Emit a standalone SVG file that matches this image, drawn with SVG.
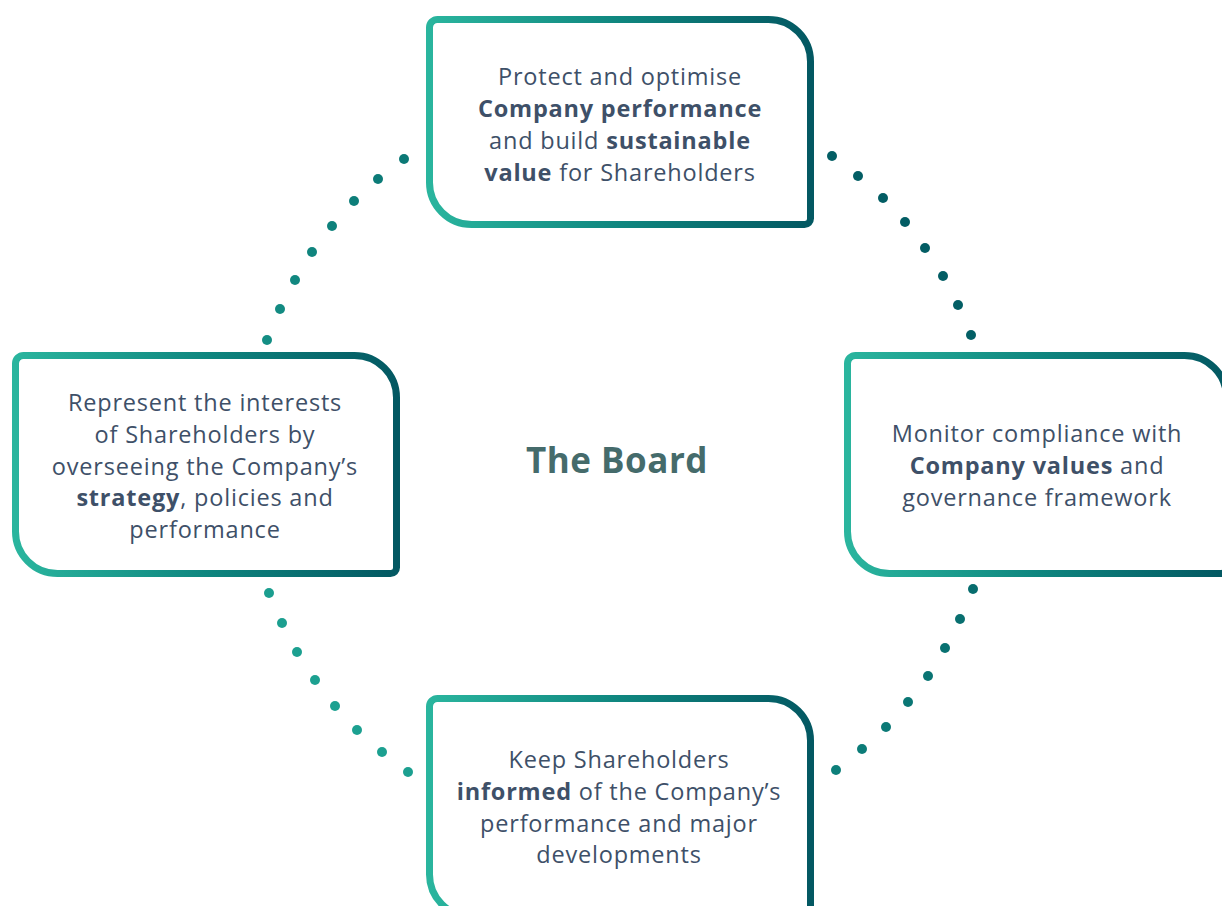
<svg xmlns="http://www.w3.org/2000/svg" width="1222" height="906" viewBox="0 0 1222 906">
  <defs>
    <linearGradient id="boxGrad" x1="0" y1="0" x2="1" y2="0">
      <stop offset="0" stop-color="#2ab59e"/>
      <stop offset="0.5" stop-color="#0f867f"/>
      <stop offset="1" stop-color="#035862"/>
    </linearGradient>
    <linearGradient id="dotGrad" gradientUnits="userSpaceOnUse" x1="250" y1="800" x2="990" y2="150">
      <stop offset="0" stop-color="#22ad99"/>
      <stop offset="0.5" stop-color="#0c7c78"/>
      <stop offset="1" stop-color="#00545e"/>
    </linearGradient>
  </defs>
  <style>
    .box { fill: #ffffff; stroke: url(#boxGrad); stroke-width: 7; }
    .txt { font-family: "Open Sans", Lato, sans-serif; font-size: 23.5px; letter-spacing: 0.8px; fill: #3e5068; text-anchor: middle; }
    .b { font-weight: bold; }
    .title { font-family: "Open Sans", Lato, sans-serif; font-size: 35px; letter-spacing: 0.5px; font-weight: bold; fill: #456b6b; text-anchor: middle; }
    .dot { fill: url(#dotGrad); }
  </style>
  <rect width="1222" height="906" fill="#ffffff"/>

  <g id="connectors">
    <circle class="dot" cx="404" cy="159" r="5"/>
    <circle class="dot" cx="378" cy="179" r="5"/>
    <circle class="dot" cx="354" cy="201" r="5"/>
    <circle class="dot" cx="332" cy="226" r="5"/>
    <circle class="dot" cx="312" cy="252" r="5"/>
    <circle class="dot" cx="295" cy="280" r="5"/>
    <circle class="dot" cx="280" cy="309" r="5"/>
    <circle class="dot" cx="267" cy="340" r="5"/>

    <circle class="dot" cx="832" cy="156" r="5"/>
    <circle class="dot" cx="858" cy="176" r="5"/>
    <circle class="dot" cx="883" cy="198" r="5"/>
    <circle class="dot" cx="905" cy="222" r="5"/>
    <circle class="dot" cx="925" cy="248" r="5"/>
    <circle class="dot" cx="943" cy="276" r="5"/>
    <circle class="dot" cx="958" cy="305" r="5"/>
    <circle class="dot" cx="971" cy="335" r="5"/>

    <circle class="dot" cx="269" cy="593" r="5"/>
    <circle class="dot" cx="282" cy="623" r="5"/>
    <circle class="dot" cx="297" cy="652" r="5"/>
    <circle class="dot" cx="315" cy="680" r="5"/>
    <circle class="dot" cx="335" cy="706" r="5"/>
    <circle class="dot" cx="357" cy="730" r="5"/>
    <circle class="dot" cx="382" cy="752" r="5"/>
    <circle class="dot" cx="408" cy="772" r="5"/>

    <circle class="dot" cx="973" cy="589" r="5"/>
    <circle class="dot" cx="960" cy="619" r="5"/>
    <circle class="dot" cx="945" cy="648" r="5"/>
    <circle class="dot" cx="928" cy="676" r="5"/>
    <circle class="dot" cx="908" cy="702" r="5"/>
    <circle class="dot" cx="886" cy="727" r="5"/>
    <circle class="dot" cx="862" cy="749" r="5"/>
    <circle class="dot" cx="836" cy="770" r="5"/>
  </g>

  <g id="node-top">
    <path class="box" d="M437.5 19.5 H768.5 A42 42 0 0 1 810.5 61.5 V218.5 A6 6 0 0 1 804.5 224.5 H471.5 A42 42 0 0 1 429.5 182.5 V27.5 A8 8 0 0 1 437.5 19.5 Z"/>
    <text class="txt" x="620" y="85">Protect and optimise</text>
    <text class="txt b" x="620" y="117">Company performance</text>
    <text class="txt" x="620" y="149">and build <tspan class="b">sustainable</tspan></text>
    <text class="txt" x="620" y="181"><tspan class="b">value</tspan> for Shareholders</text>
  </g>

  <g id="node-left">
    <path class="box" d="M23.5 355.5 H354.5 A42 42 0 0 1 396.5 397.5 V567.5 A6 6 0 0 1 390.5 573.5 H57.5 A42 42 0 0 1 15.5 531.5 V363.5 A8 8 0 0 1 23.5 355.5 Z"/>
    <text class="txt" x="205" y="411">Represent the interests</text>
    <text class="txt" x="205" y="443">of Shareholders by</text>
    <text class="txt" x="205" y="475">overseeing the Company’s</text>
    <text class="txt" x="205" y="506"><tspan class="b">strategy</tspan>, policies and</text>
    <text class="txt" x="205" y="538">performance</text>
  </g>

  <g id="node-right">
    <path class="box" d="M855.5 355.5 H1184.5 A42 42 0 0 1 1226.5 397.5 V567.5 A6 6 0 0 1 1220.5 573.5 H889.5 A42 42 0 0 1 847.5 531.5 V363.5 A8 8 0 0 1 855.5 355.5 Z"/>
    <text class="txt" x="1037" y="442">Monitor compliance with</text>
    <text class="txt" x="1037" y="474"><tspan class="b">Company values</tspan> and</text>
    <text class="txt" x="1037" y="506">governance framework</text>
  </g>

  <g id="node-bottom">
    <path class="box" d="M437.5 698.5 H768.5 A42 42 0 0 1 810.5 740.5 V910.5 A6 6 0 0 1 804.5 916.5 H471.5 A42 42 0 0 1 429.5 874.5 V706.5 A8 8 0 0 1 437.5 698.5 Z"/>
    <text class="txt" x="619" y="768">Keep Shareholders</text>
    <text class="txt" x="619" y="800"><tspan class="b">informed</tspan> of the Company’s</text>
    <text class="txt" x="619" y="832">performance and major</text>
    <text class="txt" x="619" y="863">developments</text>
  </g>

  <g id="node-center">
    <text class="title" x="617" y="473">The Board</text>
  </g>
</svg>
